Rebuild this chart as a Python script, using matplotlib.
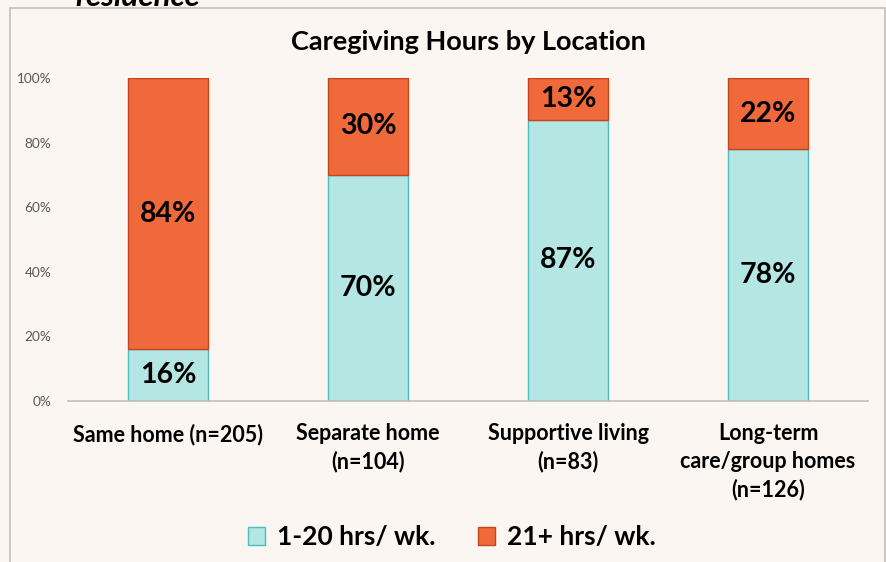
import matplotlib.pyplot as plt
from matplotlib.patches import Rectangle
import numpy as np

plt.rcParams["font.family"] = ["Lato", "DejaVu Sans"]

categories = ["Same home (n=205)", "Separate home\n(n=104)", "Supportive living\n(n=83)",
              "Long-term\ncare/group homes\n(n=126)"]
low_hours = [16, 70, 87, 78]
high_hours = [84, 30, 13, 22]
series_names = ["1-20 hrs/ wk.", "21+ hrs/ wk."]

bg = "#FBF6F2"
teal = "#B4E6E4"
teal_edge = "#4DBDBE"
orange = "#F0693A"
orange_edge = "#C4461F"

fig = plt.figure(figsize=(8.86, 5.62), dpi=100, facecolor=bg)
ax = fig.add_axes([68 / 886, 1 - 401 / 562, 800 / 886, 323 / 562], facecolor=bg)

# outer chart border and the cut-off heading above it
fig.patches.append(Rectangle((10 / 886, -0.05), 875 / 886, 1.05 - 8 / 562,
                             transform=fig.transFigure, fill=False,
                             edgecolor="#BFBFBF", linewidth=1.2))
fig.text(75 / 886, 1 - 6 / 562, "residence", fontsize=22.5, fontweight="bold",
         fontstyle="italic", va="baseline", ha="left")

x = np.arange(len(categories))
b1 = ax.bar(x, low_hours, width=0.4, color=teal, edgecolor=teal_edge, linewidth=1,
            label=series_names[0])
b2 = ax.bar(x, high_hours, width=0.4, bottom=low_hours, color=orange,
            edgecolor=orange_edge, linewidth=1, label=series_names[1])

for i in range(len(categories)):
    ax.text(x[i], low_hours[i] / 2, f"{low_hours[i]}%", ha="center", va="center",
            fontsize=20.5, fontweight="bold")
    ax.text(x[i], low_hours[i] + high_hours[i] / 2, f"{high_hours[i]}%", ha="center",
            va="center", fontsize=20.5, fontweight="bold")

ax.set_xlim(-0.5, 3.5)
ax.set_ylim(0, 100)
ax.set_yticks([0, 20, 40, 60, 80, 100])
ax.set_yticklabels([f"{v}%" for v in [0, 20, 40, 60, 80, 100]])
ax.tick_params(axis="y", length=0, labelsize=9.8, labelcolor="#595959", pad=12)
ax.set_xticks(x)
ax.set_xticklabels(categories, fontsize=15.5, fontweight="bold", linespacing=1.38)
ax.tick_params(axis="x", length=0, pad=16)
for s in ["top", "right", "left"]:
    ax.spines[s].set_visible(False)
ax.spines["bottom"].set_color("#BFBFBF")
ax.spines["bottom"].set_linewidth(1.2)

ax.set_title("Caregiving Hours by Location", fontsize=19.5, fontweight="bold", pad=20)

fig.legend(handles=[b1, b2], loc="center", bbox_to_anchor=(452 / 886, 1 - 537 / 562),
           ncol=2, frameon=False, prop={"size": 19, "weight": "bold"},
           handlelength=0.65, handleheight=0.65, handletextpad=0.45, columnspacing=1.6)

fig.savefig("out.png", dpi=100, facecolor=bg)
